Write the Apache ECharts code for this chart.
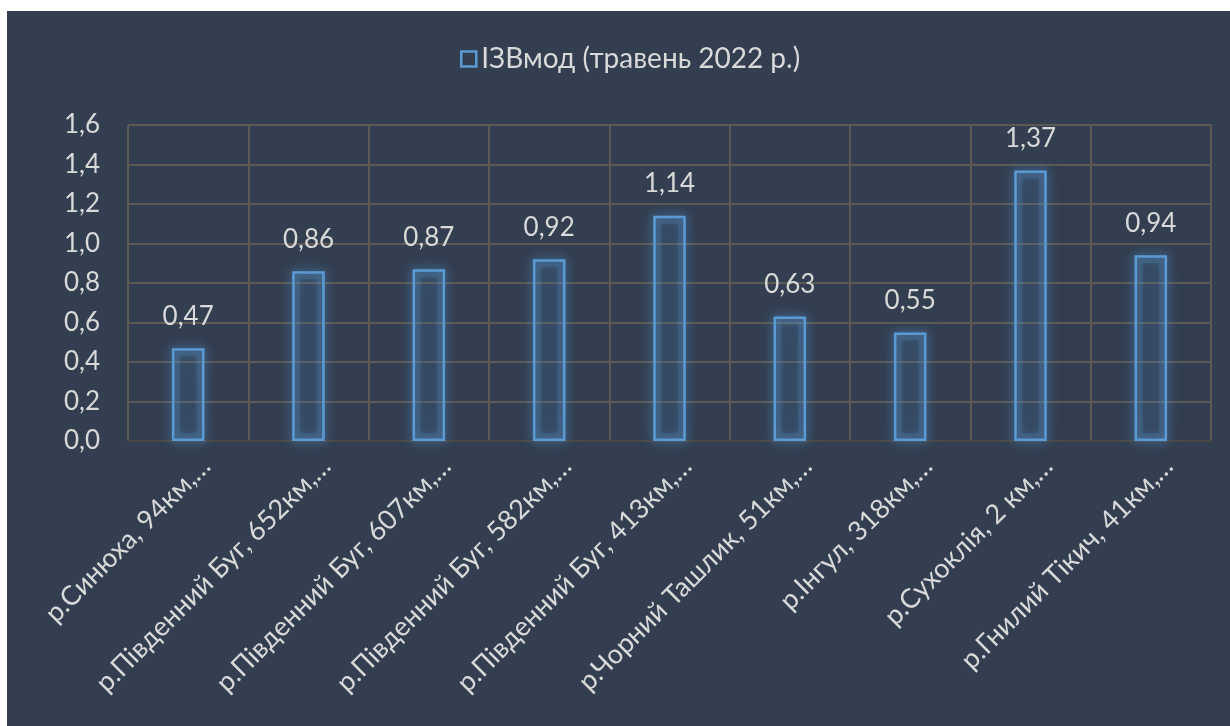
<!DOCTYPE html>
<html>
<head>
<meta charset="utf-8">
<script src="https://cdn.jsdelivr.net/npm/echarts@6/dist/echarts.min.js"></script>
<style>
  html, body { margin: 0; padding: 0; background: #ffffff; width: 1230px; height: 726px; overflow: hidden; }
  #chart { position: absolute; left: 7px; top: 11px; width: 1223px; height: 715px; }
</style>
</head>
<body>
<div id="chart"></div>
<script>
// Sampling points (river, km from mouth), labels shortened as in the report
const categories = [
  'р.Синюха, 94км,…',
  'р.Південний Буг, 652км,…',
  'р.Південний Буг, 607км,…',
  'р.Південний Буг, 582км,…',
  'р.Південний Буг, 413км,…',
  'р.Чорний Ташлик, 51км,…',
  'р.Інгул, 318км,…',
  'р.Сухоклія, 2 км,…',
  'р.Гнилий Тікич, 41км,…'
];
// ІЗВмод water pollution index, May 2022
const izvValues = [0.47, 0.86, 0.87, 0.92, 1.14, 0.63, 0.55, 1.37, 0.94];
const seriesName = 'ІЗВмод (травень 2022 р.)';
const yTicks = { min: 0, max: 1.6, interval: 0.2 };

const textColor = '#d9d9d9';
const gridColor = '#5d5a55';
const barBlue = '#5b9bd5';
const fontFamily = 'Lato, "Open Sans", sans-serif';

const comma = v => String(v).replace('.', ',');

const chart = echarts.init(document.getElementById('chart'), null, { renderer: 'canvas' });
chart.setOption({
  backgroundColor: '#333e50',
  animation: false,
  textStyle: { fontFamily: fontFamily },
  legend: {
    left: 448,
    top: 29,
    itemWidth: 15,
    itemHeight: 15,
    itemGap: 10,
    icon: 'rect',
    textStyle: { color: textColor, fontSize: 28, fontFamily: fontFamily },
    itemStyle: { color: 'transparent', borderColor: barBlue, borderWidth: 2.5 },
    data: [seriesName]
  },
  grid: { left: 121, right: 19, top: 114, bottom: 285 },
  xAxis: {
    type: 'category',
    data: categories,
    axisLine: { show: true, lineStyle: { color: '#4a4845', width: 2 } },
    axisTick: { show: false },
    splitLine: { show: true, lineStyle: { color: gridColor, width: 2 } },
    axisLabel: {
      interval: 0,
      rotate: 45,
      margin: 3,
      color: textColor,
      fontSize: 27,
      fontFamily: fontFamily,
      verticalAlign: 'top',
      lineHeight: 50
    }
  },
  yAxis: {
    type: 'value',
    min: yTicks.min,
    max: yTicks.max,
    interval: yTicks.interval,
    axisLine: { show: false },
    axisTick: { show: false },
    splitLine: { show: true, lineStyle: { color: gridColor, width: 2 } },
    axisLabel: {
      margin: 28,
      color: textColor,
      fontSize: 26,
      fontFamily: fontFamily,
      formatter: v => v.toFixed(1).replace('.', ',')
    }
  },
  series: [
    {
      // soft halo behind each bar outline
      name: 'halo',
      type: 'bar',
      data: izvValues,
      barWidth: '27%',
      silent: true,
      z: 1,
      itemStyle: {
        color: 'rgba(91,155,213,0.03)',
        borderColor: 'rgba(91,155,213,0.16)',
        borderWidth: 8,
        shadowBlur: 18,
        shadowColor: 'rgba(91,155,213,1)'
      }
    },
    {
      name: seriesName,
      type: 'bar',
      data: izvValues,
      barWidth: '27%',
      barGap: '-100%',
      z: 2,
      itemStyle: {
        color: 'rgba(91,155,213,0.03)',
        borderColor: barBlue,
        borderWidth: 2.5,
        shadowBlur: 10,
        shadowColor: 'rgba(91,155,213,0.9)'
      },
      label: {
        show: true,
        position: 'top',
        distance: 19,
        color: textColor,
        fontSize: 26,
        fontFamily: fontFamily,
        formatter: p => comma(p.value)
      }
    }
  ]
});
</script>
</body>
</html>
